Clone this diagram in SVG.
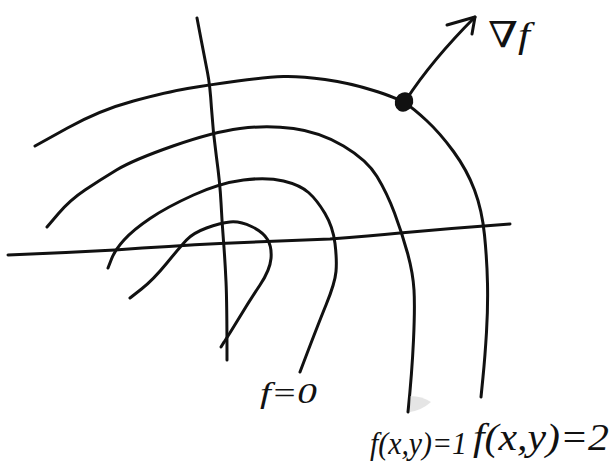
<svg xmlns="http://www.w3.org/2000/svg" width="612" height="461" viewBox="0 0 612 461">
<style>
.s{fill:none;stroke:#111;stroke-width:3;stroke-linecap:round;stroke-linejoin:round}
.t{font-family:"Liberation Serif","DejaVu Serif",serif;font-style:italic;fill:#111}
</style>
<rect width="612" height="461" fill="#fff"/>
<g id="axes">
<path class="s" d="M197,18 L201,39 Q205,60 207.5,72.5 Q210,85 211.5,108.5 Q213,132 216.5,157.5 Q220,183 221,202.5 Q222,222 223.5,241 Q225,260 226,281.5 Q227,303 227,360"/>
<path class="s" d="M8,255 Q60,253 115,250 Q170,246 220,243.5 Q280,241 330,239 Q370,236 400,233 Q455,228 510,224"/>
</g>
<g id="levels">
<path id="curve0" class="s" d="M130,298 L141.5,289 Q153,280 166.5,263.5 Q180,247 186.5,240 Q193,233 206.5,228 Q220,223 230,222 Q240,221 251.5,226.5 Q263,232 267.5,239.5 Q272,247 271,258.5 Q270,270 260,285 Q250,300 240,316.5 Q230,333 221,347 L224,342"/>
<path id="curve1" class="s" d="M108,268 L111.5,259 Q115,250 124,240 Q133,230 150,218.5 Q167,207 193.5,195 Q220,183 243.5,180 Q267,177 283.5,181 Q300,185 308.5,192.5 Q317,200 325,213.5 Q333,227 335,243.5 Q337,260 336,271.5 Q335,283 326,305 Q317,327 300,372"/>
<path id="curve2" class="s" d="M47,227 L58.5,213.5 Q70,200 85,190 Q100,180 116.5,170 Q133,160 173,146 Q213,132 240,128.5 Q267,125 293.5,128.5 Q320,132 343.5,146 Q367,160 377,176.5 Q387,193 394.5,213 Q402,233 407.5,253 Q413,273 414,290 Q415,307 413.5,340 Q412,373 408,412"/>
<path id="curve3" class="s" d="M35,146 L67.5,128 Q100,110 133.5,101 Q167,92 187.5,88.5 Q208,85 237.5,81 Q267,77 283.5,76.5 Q300,76 325,79.5 Q350,83 373.5,90.5 Q397,98 405,103 Q413,108 426.5,120.5 Q440,133 453.5,151.5 Q467,170 474.5,190 Q482,210 484.5,235 Q487,260 487.5,283.5 Q488,307 486.5,332 Q485,357 483,377 L481,397"/>
<path d="M410,396 Q422,396 431,402 Q422,410 410,412 Z" fill="#ccc" opacity="0.5"/>
</g>
<g id="gradient">
<path class="s" d="M406,100 Q432,60 475,17"/>
<path class="s" d="M447,25 L475,17 L472,34"/>
<ellipse cx="404" cy="102" rx="9" ry="10" transform="rotate(30 404 102)" fill="#111"/>
</g>
<g id="labels">
<text class="t" x="488" y="47" font-size="36" textLength="42" lengthAdjust="spacingAndGlyphs">∇f</text>
<text class="t" x="260" y="403" font-size="30" textLength="57" lengthAdjust="spacingAndGlyphs">f=0</text>
<text class="t" x="370" y="454" font-size="32" textLength="97" lengthAdjust="spacingAndGlyphs">f(x,y)=1</text>
<text class="t" x="473" y="450" font-size="37" textLength="136" lengthAdjust="spacingAndGlyphs">f(x,y)=2</text>
</g>
</svg>
